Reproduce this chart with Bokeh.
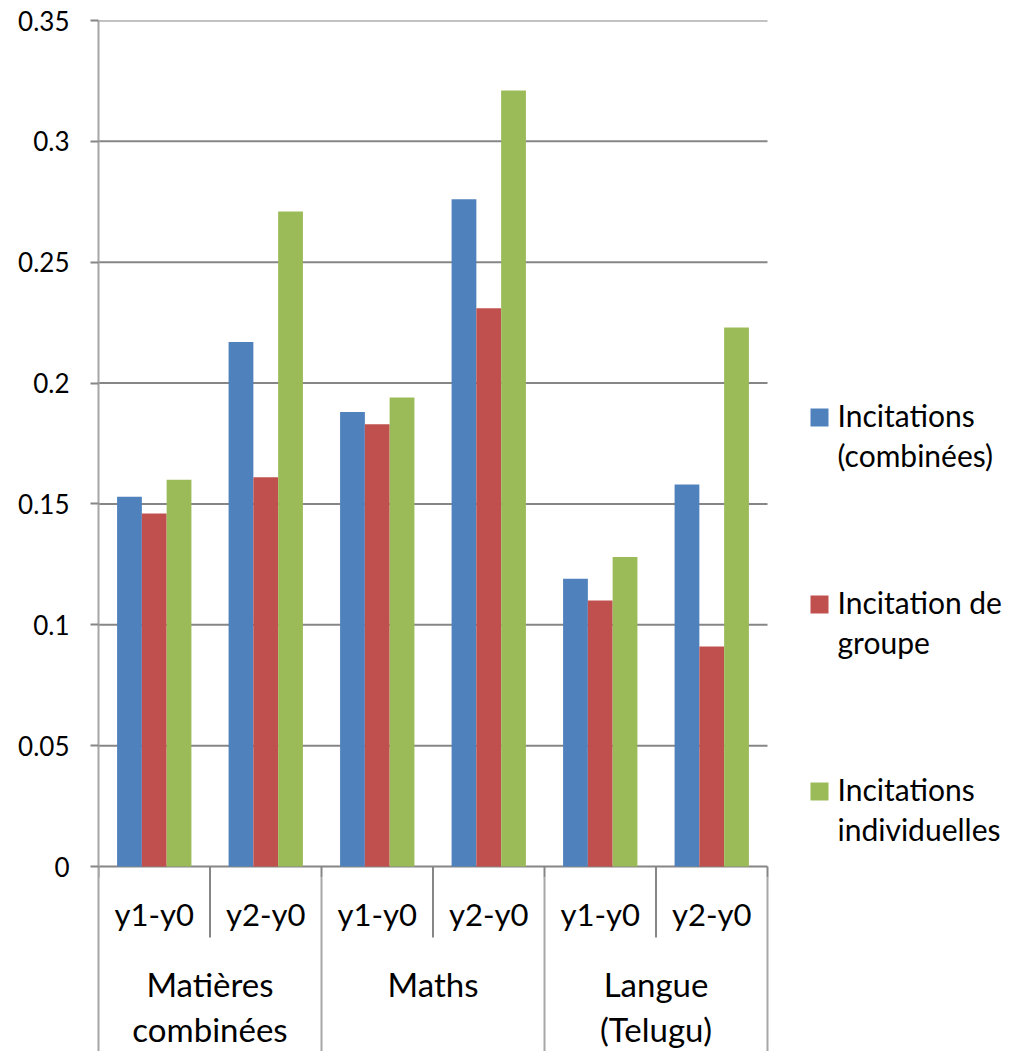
from bokeh.plotting import figure
from bokeh.models import Range1d, LinearAxis, FixedTicker, ColumnDataSource
from bokeh.core.properties import value
from bokeh.embed import file_html
from bokeh.resources import INLINE

# ---- data ----
group_lines = [["Matières", "combinées"], ["Maths"], ["Langue", "(Telugu)"]]
periods = ["y1-y0", "y2-y0"]
series_lines = [["Incitations", "(combinées)"], ["Incitation de", "groupe"], ["Incitations", "individuelles"]]
combined = [0.153, 0.217, 0.188, 0.276, 0.119, 0.158]
group_inc = [0.146, 0.161, 0.183, 0.231, 0.110, 0.091]
individual = [0.160, 0.271, 0.194, 0.321, 0.128, 0.223]
y_ticks = [0, 0.05, 0.1, 0.15, 0.2, 0.25, 0.3, 0.35]
y_tick_labels = ["0", "0.05", "0.1", "0.15", "0.2", "0.25", "0.3", "0.35"]
colors = ["#4F81BD", "#C0504D", "#9BBB59"]

# ---- layout constants ----
W, H = 1012, 1051
LEFT, TOP = 98, 20
PLOT_H = 846
N_CAT = 6
CAT_W = 669 / N_CAT
YMAX = 0.35
PPU_Y = PLOT_H / YMAX
x_max = (W - LEFT) / CAT_W
y_min = -(H - TOP - PLOT_H) / PPU_Y
FONT = "Lato"
GRID = "#868686"
AXIS = "#A6A6A6"


def px_x(img_x):  # screen px -> data x
    return (img_x - LEFT) / CAT_W


def px_y(img_y):  # screen px -> data y
    return (TOP + PLOT_H - img_y) / PPU_Y


p = figure(width=W, height=H, x_range=Range1d(0, x_max), y_range=Range1d(y_min, YMAX),
           min_border_left=LEFT, min_border_right=0, min_border_top=TOP, min_border_bottom=0,
           output_backend="svg", toolbar_location=None,
           x_axis_location=None, y_axis_location=None)
p.outline_line_color = None
p.background_fill_color = "white"
p.border_fill_color = "white"
p.grid.visible = False

# y axis
yaxis = LinearAxis(ticker=FixedTicker(ticks=y_ticks))
yaxis.major_label_overrides = {t: l for t, l in zip(y_ticks, y_tick_labels)}
yaxis.axis_line_color = AXIS
yaxis.axis_line_width = 2
yaxis.major_tick_line_color = GRID
yaxis.major_tick_line_width = 2
yaxis.major_tick_out = 8
yaxis.major_tick_in = 0
yaxis.minor_tick_line_color = None
yaxis.major_label_text_font = FONT
yaxis.major_label_text_font_size = "26px"
yaxis.major_label_text_color = "black"
yaxis.major_label_standoff = 21
p.add_layout(yaxis, "left")

# gridlines (only over the category area)
p.segment(x0=[0] * len(y_ticks), x1=[N_CAT] * len(y_ticks), y0=y_ticks, y1=y_ticks,
          line_color=GRID, line_width=2)

# bars
bar_w = 1 / 4.5
xs = [i + 0.5 for i in range(N_CAT)]
for k, vals in enumerate([combined, group_inc, individual]):
    src = ColumnDataSource(dict(x=[x + (k - 1) * bar_w for x in xs], top=vals))
    p.vbar(x="x", top="top", bottom=0, width=bar_w, source=src,
           fill_color=colors[k], line_color=None)

# category axis ticks / separators
cat_edges = list(range(N_CAT + 1))
p.segment(x0=cat_edges, x1=cat_edges, y0=[0] * len(cat_edges), y1=[-11 / PPU_Y] * len(cat_edges),
          line_color=GRID, line_width=2)
inner = [1, 3, 5]
p.segment(x0=inner, x1=inner, y0=[0] * 3, y1=[-71 / PPU_Y] * 3, line_color=GRID, line_width=2)
outer = [2, 4, 6]
p.segment(x0=outer, x1=outer, y0=[-11 / PPU_Y] * 3, y1=[y_min] * 3, line_color=AXIS, line_width=2)

# category labels
p.text(x=xs, y=[px_y(913)] * N_CAT, text=[periods[i % 2] for i in range(N_CAT)],
       text_font=value(FONT), text_font_size=value("31px"), text_color="black",
       text_align="center", text_baseline="alphabetic")
gx, gy, gt = [], [], []
for g, lines in enumerate(group_lines):
    for j, t in enumerate(lines):
        gx.append(2 * g + 1)
        gy.append(px_y(983 + 45 * j))
        gt.append(t)
p.text(x=gx, y=gy, text=gt, text_font=value(FONT), text_font_size=value("33px"),
       text_color="black", text_align="center", text_baseline="alphabetic")

# legend
sq_y = [417, 604, 791]
p.scatter(x=[px_x(819)] * 3, y=[px_y(v) for v in sq_y], marker="square", size=18,
          fill_color=colors, line_color=None)
lx, ly, lt = [], [], []
for k, lines in enumerate(series_lines):
    for j, t in enumerate(lines):
        lx.append(px_x(837))
        ly.append(px_y(sq_y[k] - 3 + 40 * j))
        lt.append(t)
p.text(x=lx, y=ly, text=lt, text_font=value(FONT), text_font_size=value("30px"),
       text_color="black", text_align="left", text_baseline="alphabetic")

open("out.html", "w").write(file_html(p, INLINE))
